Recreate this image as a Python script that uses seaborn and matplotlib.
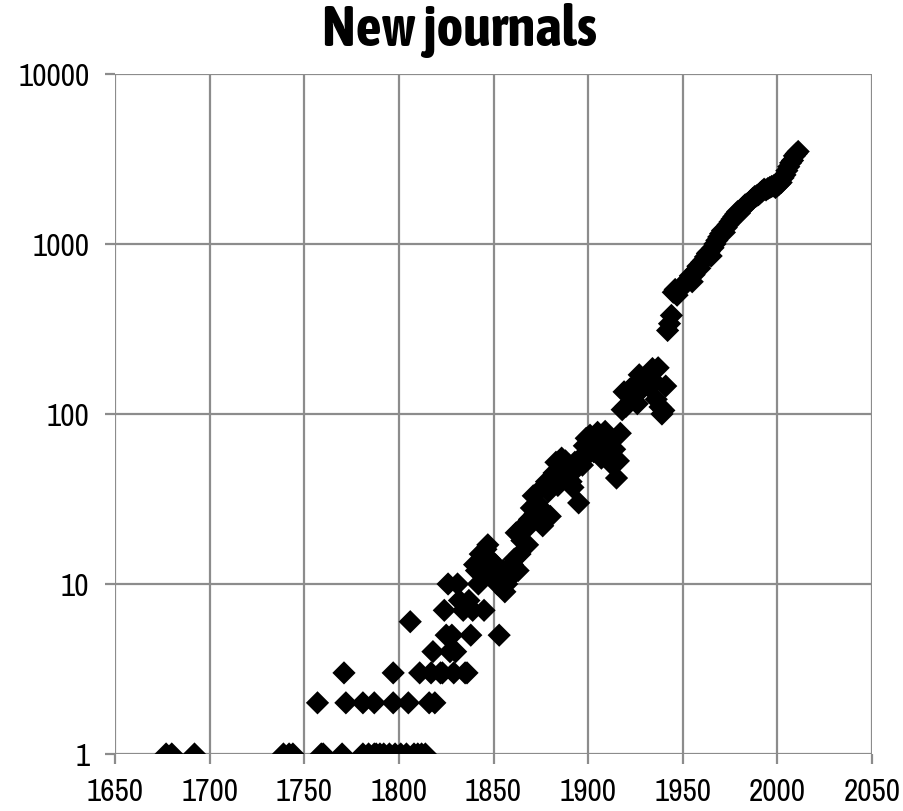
import matplotlib
matplotlib.use("Agg")
import matplotlib.pyplot as plt
from matplotlib import font_manager
import seaborn as sns
import pandas as pd
from matplotlib.ticker import FixedLocator, FixedFormatter, NullLocator

# ---- data ----
years = [1677, 1680, 1692, 1739, 1742, 1744, 1757, 1759, 1760, 1770, 1771, 1772,
         1781, 1781, 1784, 1787, 1787, 1788, 1790, 1792, 1795, 1797, 1797, 1798,
         1801, 1804, 1805, 1806, 1808, 1810, 1811, 1812, 1814, 1816, 1817, 1818,
         1819, 1822, 1823, 1824, 1825, 1826, 1827, 1828, 1829, 1830, 1831, 1832,
         1834, 1835, 1836, 1837, 1838, 1839, 1840, 1841, 1842, 1843, 1844, 1845,
         1846, 1847, 1848, 1849, 1850, 1851, 1852, 1853, 1854, 1855, 1856, 1857,
         1858, 1859, 1860, 1861, 1862, 1863, 1864, 1865, 1866, 1867, 1868, 1869,
         1870, 1871, 1872, 1873, 1874, 1875, 1876, 1877, 1878, 1879, 1880, 1881,
         1882, 1883, 1884, 1885, 1886, 1887, 1888, 1889, 1890, 1891, 1892, 1893,
         1894, 1895, 1896, 1897, 1898, 1899, 1900, 1901, 1902, 1903, 1904, 1905,
         1906, 1907, 1908, 1909, 1910, 1911, 1912, 1913, 1914, 1915, 1916, 1917,
         1918, 1919, 1920, 1921, 1922, 1923, 1924, 1925, 1926, 1927, 1928, 1929,
         1930, 1931, 1932, 1933, 1934, 1935, 1936, 1937, 1938, 1939, 1940, 1941,
         1942, 1943, 1944, 1945, 1946, 1947, 1948, 1949, 1950, 1951, 1952, 1953,
         1954, 1955, 1956, 1957, 1958, 1959, 1960, 1961, 1962, 1963, 1964, 1965,
         1966, 1967, 1968, 1969, 1970, 1971, 1972, 1973, 1974, 1975, 1976, 1977,
         1978, 1979, 1980, 1981, 1982, 1983, 1984, 1985, 1986, 1987, 1988, 1989,
         1990, 1991, 1992, 1993, 1994, 1995, 1996, 1997, 1998, 1999, 2000, 2001,
         2002, 2003, 2004, 2005, 2006, 2007, 2008, 2009, 2010, 2011]

new_journals = [1, 1, 1, 1, 1, 1, 2, 1, 1, 1, 3, 2,
                1, 2, 1, 1, 2, 1, 1, 1, 1, 2, 3, 1,
                1, 1, 2, 6, 1, 1, 3, 1, 1, 2, 3, 4,
                2, 3, 3, 7, 5, 10, 4, 5, 3, 4, 10, 8,
                7, 3, 3, 8, 5, 7, 13, 12, 10, 15, 12, 7,
                16, 17, 14, 11, 12, 13, 10, 5, 11, 12, 9, 10,
                12, 11, 13, 14, 20, 12, 15, 18, 22, 21, 17, 24,
                28, 33, 26, 30, 25, 28, 22, 38, 40, 35, 25, 42,
                45, 52, 38, 45, 55, 48, 53, 42, 50, 40, 37, 52,
                48, 30, 55, 50, 65, 72, 58, 75, 70, 60, 65, 78,
                64, 55, 62, 79, 70, 56, 60, 50, 62, 42, 53, 77,
                106, 135, 111, 130, 140, 136, 125, 150, 115, 170, 140, 160,
                146, 150, 145, 175, 185, 155, 122, 187, 110, 100, 105, 146,
                310, 340, 380, 520, 540, 500, 540, 560, 560, 580, 600, 620,
                650, 600, 660, 700, 740, 720, 780, 800, 840, 880, 900, 850,
                950, 1000, 1050, 1100, 1150, 1200, 1170, 1250, 1300, 1350, 1400, 1450,
                1500, 1550, 1520, 1600, 1650, 1700, 1720, 1750, 1800, 1850, 1900, 1920,
                1950, 2000, 2050, 2100, 2080, 2120, 2150, 2180, 2200, 2150, 2200, 2250,
                2300, 2450, 2550, 2700, 2850, 3000, 3100, 3300, 3400, 3500]

x_ticks = [1650, 1700, 1750, 1800, 1850, 1900, 1950, 2000, 2050]
y_ticks = [1, 10, 100, 1000, 10000]
y_tick_labels = ["1", "10", "100", "1000", "10000"]
title = "New journals"

df = pd.DataFrame({"year": years, "count": new_journals})

# pick narrow sans families if installed
entries = font_manager.fontManager.ttflist
def _is_narrow(n):
    return ("Narrow" in n or "Condensed" in n) and "Mono" not in n and "Serif" not in n
narrow_regular = sorted({f.name for f in entries if _is_narrow(f.name)})
narrow_bold = sorted({f.name for f in entries if _is_narrow(f.name)
                      and isinstance(f.weight, int) and f.weight >= 600})
tick_families = narrow_regular[:1] + ["Liberation Sans", "DejaVu Sans"]
title_families = narrow_bold[:1] + ["Liberation Sans", "DejaVu Sans"]

sns.set_theme(style="white")
plt.rcParams["font.family"] = tick_families

fig = plt.figure(figsize=(9.04, 8.12), dpi=100)
ax = fig.add_axes([115 / 904, 1 - 755 / 812, (872 - 115) / 904, (755 - 75) / 812])

grid_col = "#8c8c8c"
sns.scatterplot(data=df, x="year", y="count", marker="D", s=140,
                color="black", edgecolor="none", linewidth=0, ax=ax, zorder=3)

ax.set_yscale("log")
ax.set_xlim(1650, 2050)
ax.set_ylim(1, 10000)
ax.xaxis.set_major_locator(FixedLocator(x_ticks))
ax.yaxis.set_major_locator(FixedLocator(y_ticks))
ax.yaxis.set_major_formatter(FixedFormatter(y_tick_labels))
ax.yaxis.set_minor_locator(NullLocator())
ax.xaxis.set_minor_locator(NullLocator())

ax.grid(True, which="major", color=grid_col, linewidth=1.6)
ax.set_axisbelow(True)
for sp in ax.spines.values():
    sp.set_visible(False)
ax.tick_params(axis="both", which="major", direction="out", length=7.5, width=1.6,
               color=grid_col, labelsize=22.5 if narrow_regular else 19.5,
               labelcolor="black", bottom=True, left=True)
ax.tick_params(axis="y", pad=11)
ax.tick_params(axis="x", pad=9)
ax.set_xlabel("")
ax.set_ylabel("")

fig.text((317 + 603) / 2 / 904, 1 - 31 / 812, title, ha="center", va="center",
         fontsize=41 if narrow_bold else 32, fontweight="bold", color="black",
         family=title_families)

fig.savefig("out.png", dpi=100, facecolor="white")
